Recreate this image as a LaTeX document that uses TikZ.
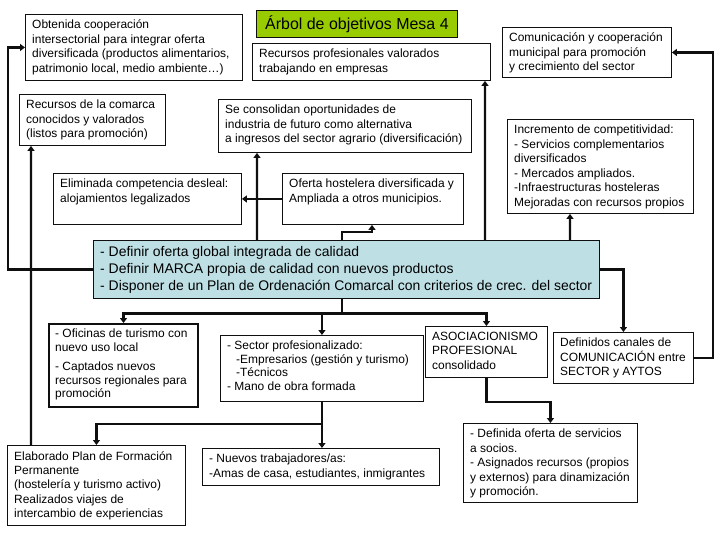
\documentclass[tikz,border=0pt]{standalone}
\usepackage{fontspec}
\setmainfont{Liberation Sans}
\usetikzlibrary{arrows.meta}
\definecolor{mesagreen}{RGB}{153, 204, 0}
\definecolor{mesablue}{RGB}{190, 223, 228}
\definecolor{mesaline}{RGB}{15, 15, 15}

\tikzset{
  frame/.style={draw=mesaline, line width=0.9bp, anchor=north west, inner sep=0pt},
  txt/.style={anchor=north west, align=left, inner xsep=7bp, inner ysep=6bp, font=\fontsize{12}{14.5}\selectfont},
  link/.style={draw=mesaline, line width=2.4bp, -{Triangle[length=5bp,width=7bp]}},
}

\begin{document}
\begin{tikzpicture}[x=1bp,y=-1bp]
      \useasboundingbox (0,0) rectangle (720,540);
      \node[frame, fill=mesagreen, minimum width=201bp, minimum height=27bp, font=\fontsize{16}{18}\selectfont] (title) at (256,10) {Árbol de objetivos Mesa 4};

      \node[frame, minimum width=217bp, minimum height=66bp] (obt) at (25,14) {};
      \node[txt] (obt-t) at (obt.north west) {Obtenida cooperación\\intersectorial para integrar oferta\\diversificada (productos alimentarios,\\patrimonio local, medio ambiente…)};
      \node[frame, minimum width=238bp, minimum height=37bp] (rprof) at (252,43) {};
      \node[txt] (rprof-t) at (rprof.north west) {Recursos profesionales valorados\\trabajando en empresas};
      \node[frame, minimum width=169bp, minimum height=50bp] (comu) at (502,27) {};
      \node[txt] (comu-t) at (comu.north west) {Comunicación y cooperación\\municipal para promoción\\y crecimiento del sector};
      \node[frame, minimum width=146bp, minimum height=51bp] (rcom) at (19,94) {};
      \node[txt] (rcom-t) at (rcom.north west) {Recursos de la comarca\\conocidos y valorados\\(listos para promoción)};
      \node[frame, minimum width=253bp, minimum height=53bp] (cons) at (218,99) {};
      \node[txt] (cons-t) at (cons.north west) {Se consolidan oportunidades de\\industria de futuro como alternativa\\a ingresos del sector agrario (diversificación)};
      \node[frame, minimum width=186bp, minimum height=94bp] (incr) at (507,119) {};
      \node[txt] (incr-t) at (incr.north west) {Incremento de competitividad:\\- Servicios complementarios\\diversificados\\- Mercados ampliados.\\-Infraestructuras hosteleras\\Mejoradas con recursos propios};
      \node[frame, minimum width=188bp, minimum height=51bp] (elim) at (53,173) {};
      \node[txt] (elim-t) at (elim.north west) {Eliminada competencia desleal:\\alojamientos legalizados};
      \node[frame, minimum width=181bp, minimum height=51bp] (ofer) at (282,173) {};
      \node[txt] (ofer-t) at (ofer.north west) {Oferta hostelera diversificada y\\Ampliada a otros municipios.};

      \node[frame, fill=mesablue, line width=1.3bp, minimum width=506bp, minimum height=58bp] (blue) at (93,240) {};
      \node[txt, font=\fontsize{14}{17}\selectfont] (blue-t) at (blue.north west) {- Definir oferta global integrada de calidad\\- Definir MARCA propia de calidad con nuevos productos\\- Disponer de un Plan de Ordenación Comarcal con criterios de crec. del sector};

      \node[frame, line width=2bp, minimum width=149bp, minimum height=83bp] (ofic) at (48,323) {};
      \node[txt, font=\fontsize{12}{13.5}\selectfont] (ofic-t) at (ofic.north west) {- Oficinas de turismo con\\nuevo uso local\\[6bp]- Captados nuevos\\recursos regionales para\\promoción};
      \node[frame, minimum width=203bp, minimum height=66bp] (sect) at (220,335) {};
      \node[txt, font=\fontsize{12}{13.5}\selectfont] (sect-t) at (sect.north west) {- Sector profesionalizado:\\\hspace*{9bp}-Empresarios (gestión y turismo)\\\hspace*{9bp}-Técnicos\\- Mano de obra formada};
      \node[frame, minimum width=122bp, minimum height=51bp] (asoc) at (425,326) {};
      \node[txt] (asoc-t) at (asoc.north west) {ASOCIACIONISMO\\PROFESIONAL\\consolidado};
      \node[frame, minimum width=140bp, minimum height=51bp] (defc) at (553,332) {};
      \node[txt] (defc-t) at (defc.north west) {Definidos canales de\\COMUNICACIÓN entre\\SECTOR y AYTOS};
      \node[frame, minimum width=178bp, minimum height=80bp] (elab) at (7,445) {};
      \node[txt] (elab-t) at (elab.north west) {Elaborado Plan de Formación\\Permanente\\(hostelería y turismo activo)\\Realizados viajes de\\intercambio de experiencias};
      \node[frame, minimum width=237bp, minimum height=37bp] (nuev) at (202,448) {};
      \node[txt] (nuev-t) at (nuev.north west) {- Nuevos trabajadores/as:\\-Amas de casa, estudiantes, inmigrantes};
      \node[frame, minimum width=174bp, minimum height=79bp] (defo) at (463,423) {};
      \node[txt] (defo-t) at (defo.north west) {- Definida oferta de servicios\\a socios.\\- Asignados recursos (propios\\y externos) para dinamización\\y promoción.};

      \draw[link] (blue.west) -- ++(-85,0) |- (obt.west);
      \draw[link] ([xshift=24bp]elab.north west) -- ([xshift=12bp]rcom.south west);
      \draw[link] ([xshift=164bp]blue.north west) -- ([xshift=39bp]cons.south west);
      \draw[link] (ofer.west) -- (elim.east);
      \draw[link] ([xshift=249bp]blue.north west) -- ++(0,-8) -| ([xshift=90bp]ofer.south west);
      \draw[link] ([xshift=392bp]blue.north west) -- ([xshift=233bp]rprof.south west);
      \draw[link] ([xshift=477bp]blue.north west) -- ([xshift=63bp]incr.south west);
      \draw[link] (blue.east) -| (defc.north);
      \draw[link] (defc.east) -- ++(19,0) |- (comu.east);
      \draw[link] ([xshift=249bp]blue.south west) -- ++(0,14) -| (ofic.north);
      \draw[link] ([xshift=249bp]blue.south west) -- ++(0,14) -| (sect.north);
      \draw[link] ([xshift=249bp]blue.south west) -- ++(0,14) -| (asoc.north);
      \draw[link] (sect.south) -- (sect.south |- nuev.north);
      \draw[link] (sect.south) -- ++(0,22) -| (elab.north);
      \draw[link] (asoc.south) -- ++(0,24) -| (defo.north);
    \end{tikzpicture}
\end{document}
